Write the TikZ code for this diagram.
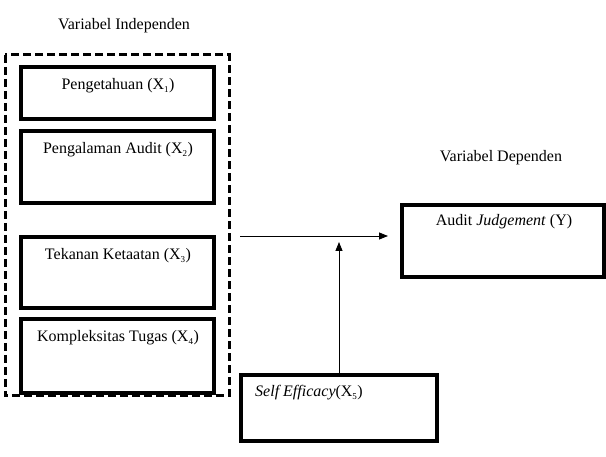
\documentclass[tikz,border=0pt]{standalone}
\usepackage{fontspec}
\setmainfont{Liberation Serif}
\usetikzlibrary{arrows.meta}
\newcommand{\subx}[1]{\textsubscript{\fontsize{9}{10}\selectfont #1}}
\begin{document}
\begin{tikzpicture}[x=1pt,y=-1pt,
  box/.style={draw,line width=3.2pt},
  lbl/.style={font=\fontsize{16}{18}\selectfont,inner sep=0pt},
  conn/.style={line width=0.8pt,-{Triangle[length=9pt,width=7pt]}}]
\useasboundingbox (0,0) rectangle (606,457);
\node[lbl] (ti) at (124,26) {Variabel Independen};
\node[lbl] (td) at (501,158) {Variabel Dependen};
\draw[line width=3pt,dash pattern=on 8pt off 4pt] (5,55) rectangle (229,396);
\draw[box] (21,67) rectangle (214,119);
\node[lbl] (t1) at (118,86) {Pengetahuan (X\subx{1})};
\draw[box] (21,131) rectangle (214,203);
\node[lbl] (t2) at (118,150) {Pengalaman Audit (X\subx{2})};
\draw[box] (21,237) rectangle (214,308);
\node[lbl] (t3) at (118,256) {Tekanan Ketaatan (X\subx{3})};
\draw[box] (21,319) rectangle (214,393);
\node[lbl] (t4) at (118,338) {Kompleksitas Tugas (X\subx{4})};
\node[box,minimum width=202pt,minimum height=72pt,inner sep=0pt] (y) at (503,241) {};
\node[lbl] (ty) at (504,222) {Audit \textit{Judgement} (Y)};
\node[box,minimum width=196pt,minimum height=66pt,inner sep=0pt] (se) at (339,408) {};
\node[lbl,anchor=west] (tse) at (255,393) {\textit{Self Efficacy}(X\subx{5})};
\coordinate (hs) at (240,236);
\coordinate (he) at (388,236);
\coordinate (vt) at (339,242);
\draw[conn] (hs) -- (he);
\draw[conn] (se.north -| vt) -- (vt);
\end{tikzpicture}
\end{document}
